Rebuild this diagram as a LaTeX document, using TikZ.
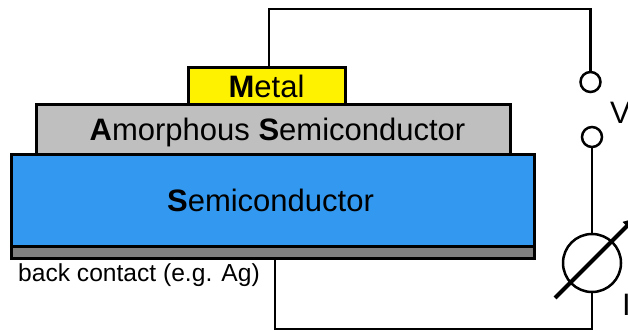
\documentclass[tikz,border=0pt]{standalone}
\usepackage{fontspec}
\setmainfont{Liberation Sans}
\usetikzlibrary{arrows.meta}
\definecolor{semiblue}{HTML}{3399F0}
\tikzset{
  layer/.style={draw=black, line width=3pt, inner sep=0pt, outer sep=0pt},
  layertext/.style={inner sep=0pt, font=\fontsize{31}{36}\selectfont},
  wire/.style={black, line width=2.5pt},
  terminal/.style={circle, draw=black, fill=white, line width=2.5pt, inner sep=0pt, outer sep=0pt, minimum size=20pt},
}
\begin{document}
\begin{tikzpicture}[x=1pt, y=1pt]
  \useasboundingbox (0, 0) rectangle (628, 331);

  % Layers
  \node[layer, fill=semiblue, minimum width=523pt, minimum height=92pt] (semi) at (272.5, 130) {};
  \node[layer, fill=black!50, minimum width=523pt, minimum height=12pt] (back) at (272.5, 78) {};
  \node[layer, fill=black!25, minimum width=474pt, minimum height=50pt] (amorph) at (273, 201) {};
  \node[layer, fill=yellow, minimum width=157pt, minimum height=37pt] (metal) at (266.5, 244.5) {};

  % Layer labels
  \node[layertext] (semilabel) at (270.5, 131) {\textbf{S}emiconductor};
  \node[layertext] (amorphlabel) at (277.5, 199) {\textbf{A}morphous \textbf{S}emiconductor};
  \node[layertext] (metallabel) at (266.5, 244.5) {\textbf{M}etal};
  \node[anchor=west, inner sep=0pt, font=\fontsize{24.6}{28}\selectfont] (backlabel) at (18, 56) {back contact (e.g. Ag)};

  % Terminals and meter
  \node[terminal] (termtop) at (590.5, 249) {};
  \node[terminal] (termbot) at (592, 194) {};
  \node[terminal, minimum size=58pt] (meter) at (592, 68) {};
  \node[anchor=west, layertext] (vlabel) at (610, 218.5) {V};
  \node[anchor=west, layertext] (ilabel) at (622, 26) {I};

  % Wires
  \coordinate (topleft) at (269, 322);
  \coordinate (botleft) at (275, 2);
  \draw[wire] (topleft |- metal.north) -- (topleft) -| (termtop.north);
  \draw[wire] (termbot) -- (meter);
  \draw[wire] (meter.south) |- (botleft) -- (botleft |- back.south);

  % Meter arrow
  \coordinate (arrowtail) at (555, 33);
  \coordinate (arrowtip) at (636, 114);
  \draw[line width=4pt, -{Latex[length=13pt, width=13pt]}] (arrowtail) -- (arrowtip);
\end{tikzpicture}
\end{document}
